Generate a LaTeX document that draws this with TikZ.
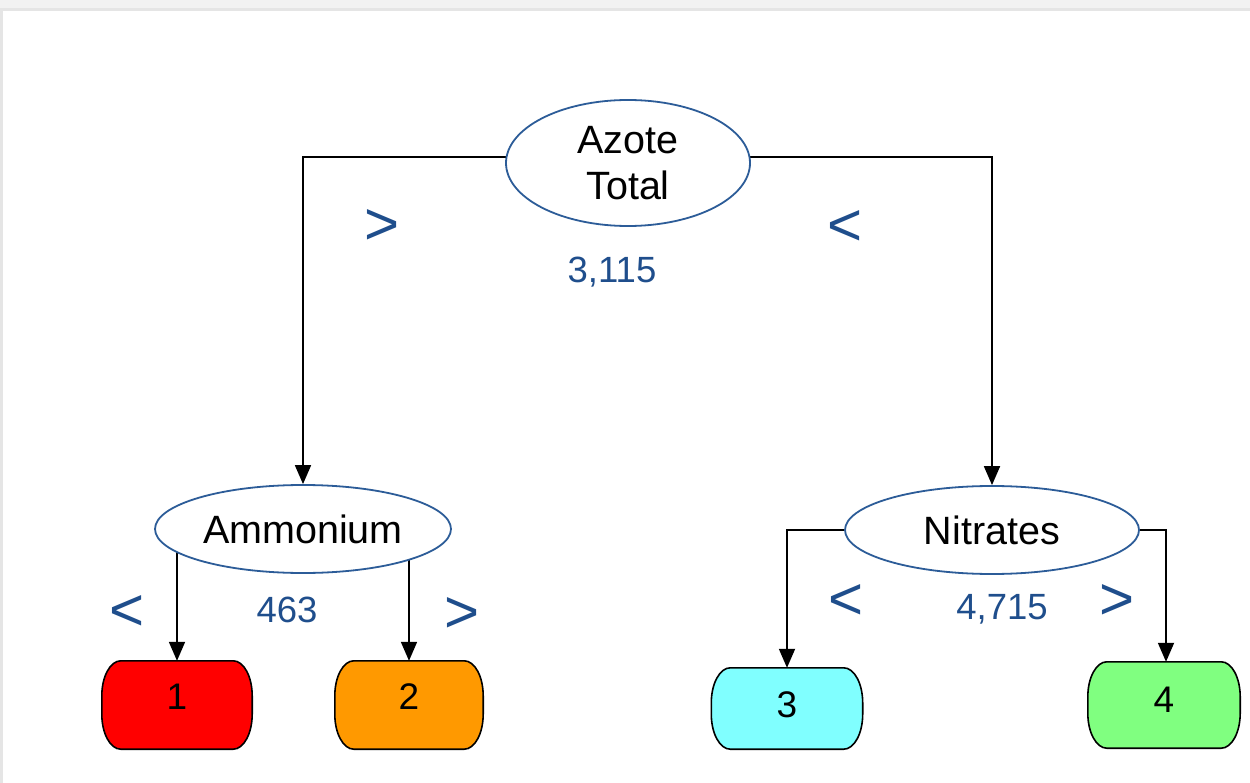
\documentclass[tikz,border=0pt]{standalone}
\usepackage{fontspec}
\setmainfont{Liberation Sans}
\usetikzlibrary{shapes.geometric,arrows.meta}
\pgfdeclarelayer{background}
\pgfsetlayers{background,main}
\definecolor{lblblue}{HTML}{1F4E8C}
\definecolor{ellblue}{HTML}{2C5C98}
\definecolor{leafred}{HTML}{FF0000}
\definecolor{leaforange}{HTML}{FF9900}
\definecolor{leafcyan}{HTML}{80FFFF}
\definecolor{leafgreen}{HTML}{80FF80}
\tikzset{
  ellnode/.style={ellipse, draw=ellblue, line width=1.8pt, fill=white, inner sep=0pt,
    font=\fontsize{39.5}{46}\selectfont, align=center},
  leafnode/.style={rectangle, draw=none, inner sep=0pt, font=\fontsize{37}{40}\selectfont},
  leafline/.style={draw=black, line width=1.6pt},
  conn/.style={draw=black, line width=1.8pt, -{Triangle[width=16pt,length=19pt]}},
  sym/.style={text=lblblue, font=\fontsize{60}{60}\selectfont, inner sep=0pt},
  numlbl/.style={text=lblblue, font=\fontsize{36.5}{40}\selectfont, inner sep=0pt},
}
\newcommand\leafpath[2]{%
  \draw[leafline, fill=#2] ([xshift=19pt]#1.north west) -- ([xshift=-19pt]#1.north east)
    arc[start angle=90, end angle=0, x radius=19pt, y radius=35pt]
    -- ([yshift=35pt]#1.south east)
    arc[start angle=0, end angle=-90, x radius=19pt, y radius=35pt]
    -- ([xshift=19pt]#1.south west)
    arc[start angle=270, end angle=180, x radius=19pt, y radius=35pt]
    -- ([yshift=-35pt]#1.north west)
    arc[start angle=180, end angle=90, x radius=19pt, y radius=35pt] -- cycle;}
\begin{document}
\begin{tikzpicture}[x=1pt,y=-1pt]
\useasboundingbox (0,0) rectangle (1250,783);
\begin{pgfonlayer}{background}
  \fill[white] (0,0) rectangle (1250,783);
  \fill[black!5] (0,0) rectangle (1250,9);
  \fill[black!10] (0,8) rectangle (1250,11);
  \fill[black!10] (0,8) rectangle (3,783);
\end{pgfonlayer}

% decision nodes
\node[ellnode, minimum width=244pt, minimum height=126pt] (azote) at (628,163) {Azote\\Total};
\node[ellnode, minimum width=296pt, minimum height=88pt] (amm) at (303,529) {Ammonium};
\node[ellnode, minimum width=294pt, minimum height=88pt] (nit) at (992,530) {Nitrates};

% leaves
\node[leafnode, minimum width=150pt, minimum height=88pt] (l1) at (177,705) {\raisebox{16pt}{1}};
\node[leafnode, minimum width=148pt, minimum height=88pt] (l2) at (409,705) {\raisebox{16pt}{2}};
\node[leafnode, minimum width=151pt, minimum height=81pt] (l3) at (787,708.5) {\raisebox{8pt}{3}};
\node[leafnode, minimum width=152pt, minimum height=86pt] (l4) at (1164,705) {\raisebox{11pt}{4}};

\begin{pgfonlayer}{background}
  \leafpath{l1}{leafred}
  \leafpath{l2}{leaforange}
  \leafpath{l3}{leafcyan}
  \leafpath{l4}{leafgreen}
  \draw[conn] ([yshift=6pt]azote.center) -| (amm.north);
  \draw[conn] ([yshift=6pt]azote.center) -| (nit.north);
  \draw[conn] (l1.north |- amm.center) -- (l1.north);
  \draw[conn] (l2.north |- amm.center) -- (l2.north);
  \draw[conn] (nit.center) -| (l3.north);
  \draw[conn] (nit.center) -| ([xshift=2pt]l4.north);
\end{pgfonlayer}

% labels
\node[sym] (g1) at (382,227) {>};
\node[sym] (g2) at (845,228) {<};
\node[numlbl] (v1) at (612,272) {3,115};
\node[sym] (g3) at (127,613) {<};
\node[numlbl] (v2) at (287,610) {463};
\node[sym] (g4) at (462,615) {>};
\node[sym] (g5) at (846,602) {<};
\node[numlbl] (v3) at (1002,609) {4,715};
\node[sym] (g6) at (1117,602) {>};
\end{tikzpicture}
\end{document}
